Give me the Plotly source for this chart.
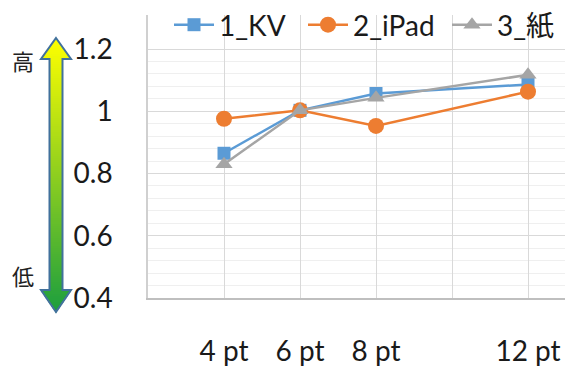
import plotly.graph_objects as go

# ---------------- data ----------------
pt_sizes = [4, 6, 8, 10, 12]
x_labels = ["4 pt", "6 pt", "8 pt", "", "12 pt"]
kv = [0.865, 1.003, 1.057, None, 1.086]
ipad = [0.976, 1.003, 0.953, None, 1.063]
paper = [0.830, 1.003, 1.043, None, 1.117]
series_names = ["1_KV", "2_iPad", "3_紙"]
y_ticks = [0.4, 0.6, 0.8, 1.0, 1.2]
y_ticktext = ["0.4", "0.6", "0.8", "1", "1.2"]
minor_y = [0.44, 0.48, 0.52, 0.56, 0.64, 0.68, 0.72, 0.76, 0.84, 0.88, 0.92, 0.96,
           1.04, 1.08, 1.12, 1.16]

W, H = 573, 367
ML, MR, MT, MB = 148, 8, 15, 69
PW, PH = W - ML - MR, H - MT - MB

def px2x(px):
    return (px - ML) / PW

def px2y(py):
    return (H - MB - py) / PH

FONT = "Lato, Liberation Sans, Noto Sans CJK JP, sans-serif"
FS = 28

fig = go.Figure()
colors = ["#5B9BD5", "#ED7D31", "#A5A5A5"]
symbols = ["square", "circle", "triangle-up"]
sizes = [13, 16, 15]
legend_ids = ["legend", "legend2", "legend3"]
for name, ys, c, s, sz, lg in zip(series_names, [kv, ipad, paper], colors, symbols, sizes, legend_ids):
    fig.add_trace(go.Scatter(
        x=pt_sizes, y=ys, name=name, mode="lines+markers", connectgaps=True,
        line=dict(color=c, width=2.5),
        marker=dict(symbol=s, size=sz, color=c),
        legend=lg,
    ))

# ---------------- gradient double arrow (decoration) ----------------
shapes = []
cx = 56
top_tip, top_base, bot_base, bot_tip = 38, 59, 290, 312
head_hw, shaft_hw = 15, 6.5
c_top = (255, 255, 0)
c_bot = (28, 158, 62)
step = 2
py = top_tip
while py < bot_tip:
    mid = py + step / 2
    if mid < top_base:
        hw = head_hw * (mid - top_tip) / (top_base - top_tip)
    elif mid > bot_base:
        hw = head_hw * (bot_tip - mid) / (bot_tip - bot_base)
    else:
        hw = shaft_hw
    t = (mid - top_tip) / (bot_tip - top_tip)
    col = tuple(int(round(a + (b - a) * t)) for a, b in zip(c_top, c_bot))
    shapes.append(dict(type="rect", xref="paper", yref="paper",
                       x0=px2x(cx - hw), x1=px2x(cx + hw),
                       y0=px2y(py + step + 0.5), y1=px2y(py),
                       fillcolor="rgb(%d,%d,%d)" % col, line=dict(width=0)))
    py += step

pts = [(cx, top_tip), (cx + head_hw, top_base), (cx + shaft_hw, top_base),
       (cx + shaft_hw, bot_base), (cx + head_hw, bot_base), (cx, bot_tip),
       (cx - head_hw, bot_base), (cx - shaft_hw, bot_base), (cx - shaft_hw, top_base),
       (cx - head_hw, top_base)]
path = "M " + " L ".join("%f,%f" % (px2x(a), px2y(b)) for a, b in pts) + " Z"
shapes.append(dict(type="path", xref="paper", yref="paper", path=path,
                   line=dict(color="#41719C", width=2)))

annotations = [
    dict(text="高", xref="paper", yref="paper", x=px2x(23), y=px2y(60),
         showarrow=False, font=dict(family="Noto Sans CJK JP", size=22, color="#222222"),
         xanchor="center", yanchor="middle"),
    dict(text="低", xref="paper", yref="paper", x=px2x(23), y=px2y(275),
         showarrow=False, font=dict(family="Noto Sans CJK JP", size=22, color="#222222"),
         xanchor="center", yanchor="middle"),
]

def legend_at(px):
    return dict(orientation="h", x=px2x(px), y=px2y(25), xanchor="left", yanchor="middle",
                bgcolor="rgba(0,0,0,0)", font=dict(family=FONT, size=FS, color="#1a1a1a"),
                itemwidth=40)

fig.update_layout(
    width=W, height=H,
    margin=dict(l=ML, r=MR, t=MT, b=MB, autoexpand=False),
    paper_bgcolor="white", plot_bgcolor="white",
    font=dict(family=FONT, size=FS, color="#1a1a1a"),
    shapes=shapes, annotations=annotations,
    showlegend=True,
    legend=legend_at(169),
    legend2=legend_at(303),
    legend3=legend_at(447),
    xaxis=dict(range=[2, 2 + (565 - 148) / 38.0], tickvals=pt_sizes, ticktext=x_labels,
               showgrid=True, gridcolor="#D9D9D9", gridwidth=1,
               showline=True, linecolor="#BFBFBF", linewidth=1.5,
               ticks="", zeroline=False, ticklabelstandoff=28, automargin=False,
               tickfont=dict(family=FONT, size=FS, color="#1a1a1a")),
    yaxis=dict(range=[0.4, 1.2 + 34 / 311.25], tickvals=y_ticks, ticktext=y_ticktext,
               showgrid=True, gridcolor="#D9D9D9", gridwidth=1,
               minor=dict(tickvals=minor_y, showgrid=True, gridcolor="#EFEFEF", gridwidth=1),
               showline=True, linecolor="#D0D0D0", linewidth=1.5,
               ticks="", zeroline=False, ticklabelstandoff=28, automargin=False,
               tickfont=dict(family=FONT, size=FS, color="#1a1a1a")),
)

fig.write_html("out.html")
